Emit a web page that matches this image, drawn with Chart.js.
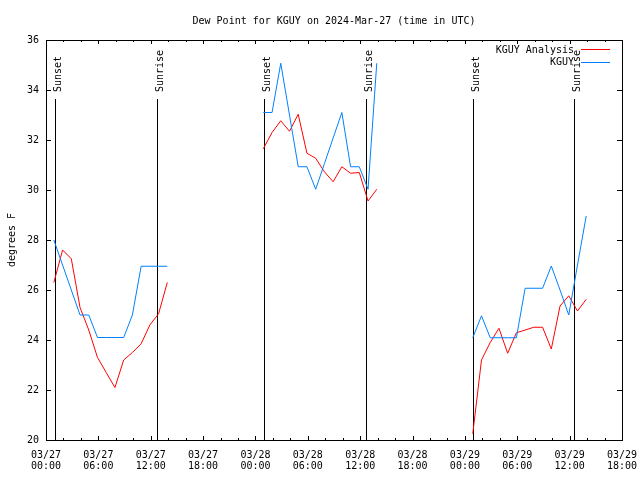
<!DOCTYPE html>
<html>
<head>
<meta charset="utf-8">
<title>Dew Point for KGUY</title>
<script src="https://cdn.jsdelivr.net/npm/chart.js@4.4.1/dist/chart.umd.min.js"></script>
<style>
    html, body { margin: 0; padding: 0; background: #fff; }
    canvas { display: block; }
</style>
</head>
<body>
<canvas id="dewpointChart" width="640" height="480"></canvas>
<script>

// hours since 03/27 00:00 UTC
var obsHours = [
    0.9, 1.9, 2.9, 3.9, 4.9, 5.9, 6.9, 7.9, 8.9, 9.9, 10.9, 11.9, 12.9, 13.9,
    24.9, 25.9, 26.9, 27.9, 28.9, 29.9, 30.9, 31.9, 32.9, 33.9, 34.9, 35.9, 36.9, 37.9,
    48.9, 49.9, 50.9, 51.9, 52.9, 53.9, 54.9, 55.9, 56.9, 57.9, 58.9, 59.9, 60.9, 61.9
];

var analysisDewF = [
    26.3, 27.6, 27.25, 25.3, 24.4, 23.3, 22.7, 22.1, 23.2, 23.5, 23.85, 24.6, 25.05, 26.3,
    31.65, 32.3, 32.77, 32.35, 33.03, 31.47, 31.27, 30.73, 30.33, 30.93, 30.67, 30.7, 29.56, 30.03,
    20.25, 23.2, 23.9, 24.47, 23.47, 24.29, 24.4, 24.51, 24.51, 23.64, 25.36, 25.77, 25.16, 25.63
];

var observedDewF = [
    28.0, 27.0, 26.0, 25.0, 25.0, 24.1, 24.1, 24.1, 24.1, 25.0, 26.95, 26.95, 26.95, 26.95,
    33.1, 33.1, 35.07, 33.0, 30.93, 30.93, 30.03, 31.05, 32.08, 33.1, 30.93, 30.93, 30.03, 35.07,
    24.09, 24.97, 24.09, 24.09, 24.09, 24.09, 26.07, 26.07, 26.07, 26.96, 26.0, 25.0, 27.0, 28.96
];

var sunLabels = ['Sunset', 'Sunrise', 'Sunset', 'Sunrise', 'Sunset', 'Sunrise'];
var sunHours = [1.0, 12.75, 25.0, 36.62, 48.97, 60.55];

var xTickHours = [0, 6, 12, 18, 24, 30, 36, 42, 48, 54, 60, 66];
var xTickDates = ['03/27', '03/27', '03/27', '03/27', '03/28', '03/28', '03/28', '03/28', '03/29', '03/29', '03/29', '03/29'];
var xTickTimes = ['00:00', '06:00', '12:00', '18:00', '00:00', '06:00', '12:00', '18:00', '00:00', '06:00', '12:00', '18:00'];
var yTicks = [20, 22, 24, 26, 28, 30, 32, 34, 36];

var FONT = '10px "DejaVu Sans Mono"';
var RED = '#ff0000';
var BLUE = '#0080ff';

// break the line where there is no data for a while
function montaSerie(horas, valores) {
    var pontos = [];
    for (var i = 0; i < horas.length; i++) {
        if (i > 0 && horas[i] - horas[i - 1] > 3) {
            pontos.push({ x: (horas[i] + horas[i - 1]) / 2, y: null });
        }
        pontos.push({ x: horas[i], y: valores[i] });
    }
    return pontos;
}

function linha(ctx, x1, y1, x2, y2) {
    ctx.beginPath();
    ctx.moveTo(x1, y1);
    ctx.lineTo(x2, y2);
    ctx.stroke();
}

var gnuplotFrame = {
    id: 'gnuplotFrame',
    beforeDatasetsDraw: function (chart) {
        var ctx = chart.ctx;
        var area = chart.chartArea;
        var xs = chart.scales.x;
        ctx.save();
        ctx.strokeStyle = '#000';
        ctx.fillStyle = '#000';
        ctx.lineWidth = 1;
        ctx.font = FONT;
        sunHours.forEach(function (h, i) {
            var px = Math.round(xs.getPixelForValue(h)) + 0.5;
            linha(ctx, px, area.bottom, px, 99);
            ctx.save();
            ctx.translate(px + 5, 92);
            ctx.rotate(-Math.PI / 2);
            ctx.textAlign = 'left';
            ctx.textBaseline = 'alphabetic';
            ctx.fillText(sunLabels[i], 0, 0);
            ctx.restore();
        });
        ctx.restore();
    },
    afterDraw: function (chart) {
        var ctx = chart.ctx;
        var area = chart.chartArea;
        var xs = chart.scales.x;
        var ys = chart.scales.y;
        ctx.save();
        ctx.strokeStyle = '#000';
        ctx.fillStyle = '#000';
        ctx.lineWidth = 1;

        // box
        ctx.strokeRect(area.left + 0.5, area.top + 0.5, area.right - area.left, area.bottom - area.top);

        // x ticks, major and minor, mirrored on top
        for (var h = 0; h <= 66; h += 2) {
            var px = Math.round(xs.getPixelForValue(h)) + 0.5;
            var len = (h % 6 === 0) ? 4 : 2;
            linha(ctx, px, area.bottom, px, area.bottom - len);
            linha(ctx, px, area.top, px, area.top + len);
        }
        // y ticks, mirrored on right
        yTicks.forEach(function (v) {
            var py = Math.round(ys.getPixelForValue(v)) + 0.5;
            linha(ctx, area.left, py, area.left + 5, py);
            linha(ctx, area.right, py, area.right - 5, py);
        });

        ctx.font = FONT;

        // title
        ctx.textAlign = 'center';
        ctx.textBaseline = 'alphabetic';
        ctx.fillText('Dew Point for KGUY on 2024-Mar-27 (time in UTC)', (area.left + area.right) / 2, 24);

        // y axis title
        ctx.save();
        ctx.translate(15, (area.top + area.bottom) / 2);
        ctx.rotate(-Math.PI / 2);
        ctx.textAlign = 'center';
        ctx.fillText('degrees F', 0, 0);
        ctx.restore();

        // legend
        ctx.textAlign = 'right';
        ctx.textBaseline = 'middle';
        ctx.fillText('KGUY Analysis', 574, 50);
        ctx.fillText('KGUY', 574, 62);
        ctx.strokeStyle = RED;
        linha(ctx, 581, 49.5, 610, 49.5);
        ctx.strokeStyle = BLUE;
        linha(ctx, 581, 62.5, 610, 62.5);

        ctx.restore();
    }
};

var ctxDew = document.getElementById('dewpointChart').getContext('2d');
var dewpointChart = new Chart(ctxDew, {
    type: 'line',
    data: {
        datasets: [{
            label: 'KGUY',
            data: montaSerie(obsHours, observedDewF),
            borderColor: BLUE,
            borderWidth: 1,
            pointRadius: 0,
            tension: 0,
            spanGaps: false,
            fill: false,
            order: 0
        }, {
            label: 'KGUY Analysis',
            data: montaSerie(obsHours, analysisDewF),
            borderColor: RED,
            borderWidth: 1,
            pointRadius: 0,
            tension: 0,
            spanGaps: false,
            fill: false,
            order: 1
        }]
    },
    options: {
        responsive: false,
        animation: false,
        devicePixelRatio: 1,
        layout: { padding: { left: 0, right: 18, top: 40, bottom: 0 } },
        plugins: {
            legend: { display: false },
            title: { display: false },
            tooltip: { enabled: false }
        },
        scales: {
            x: {
                type: 'linear',
                min: 0,
                max: 66,
                grid: { display: false, drawTicks: false },
                border: { display: false },
                afterBuildTicks: function (scale) {
                    scale.ticks = xTickHours.map(function (v) { return { value: v }; });
                },
                afterFit: function (scale) {
                    scale.height = 40;
                    // labels hang over the ends, the margins already hold them
                    scale.paddingLeft = 0;
                    scale.paddingRight = 0;
                },
                ticks: {
                    autoSkip: false,
                    maxRotation: 0,
                    padding: 10,
                    color: '#000',
                    font: { family: 'DejaVu Sans Mono', size: 10, lineHeight: 1.1 },
                    callback: function (value) {
                        var i = xTickHours.indexOf(value);
                        return [xTickDates[i], xTickTimes[i]];
                    }
                }
            },
            y: {
                min: 20,
                max: 36,
                grid: { display: false, drawTicks: false },
                border: { display: false },
                afterBuildTicks: function (scale) {
                    scale.ticks = yTicks.map(function (v) { return { value: v }; });
                },
                afterFit: function (scale) {
                    scale.width = 46;
                    scale.paddingTop = 0;
                    scale.paddingBottom = 0;
                },
                ticks: {
                    padding: 7,
                    color: '#000',
                    font: { family: 'DejaVu Sans Mono', size: 10 }
                }
            }
        }
    },
    plugins: [gnuplotFrame]
});

</script>
</body>
</html>
